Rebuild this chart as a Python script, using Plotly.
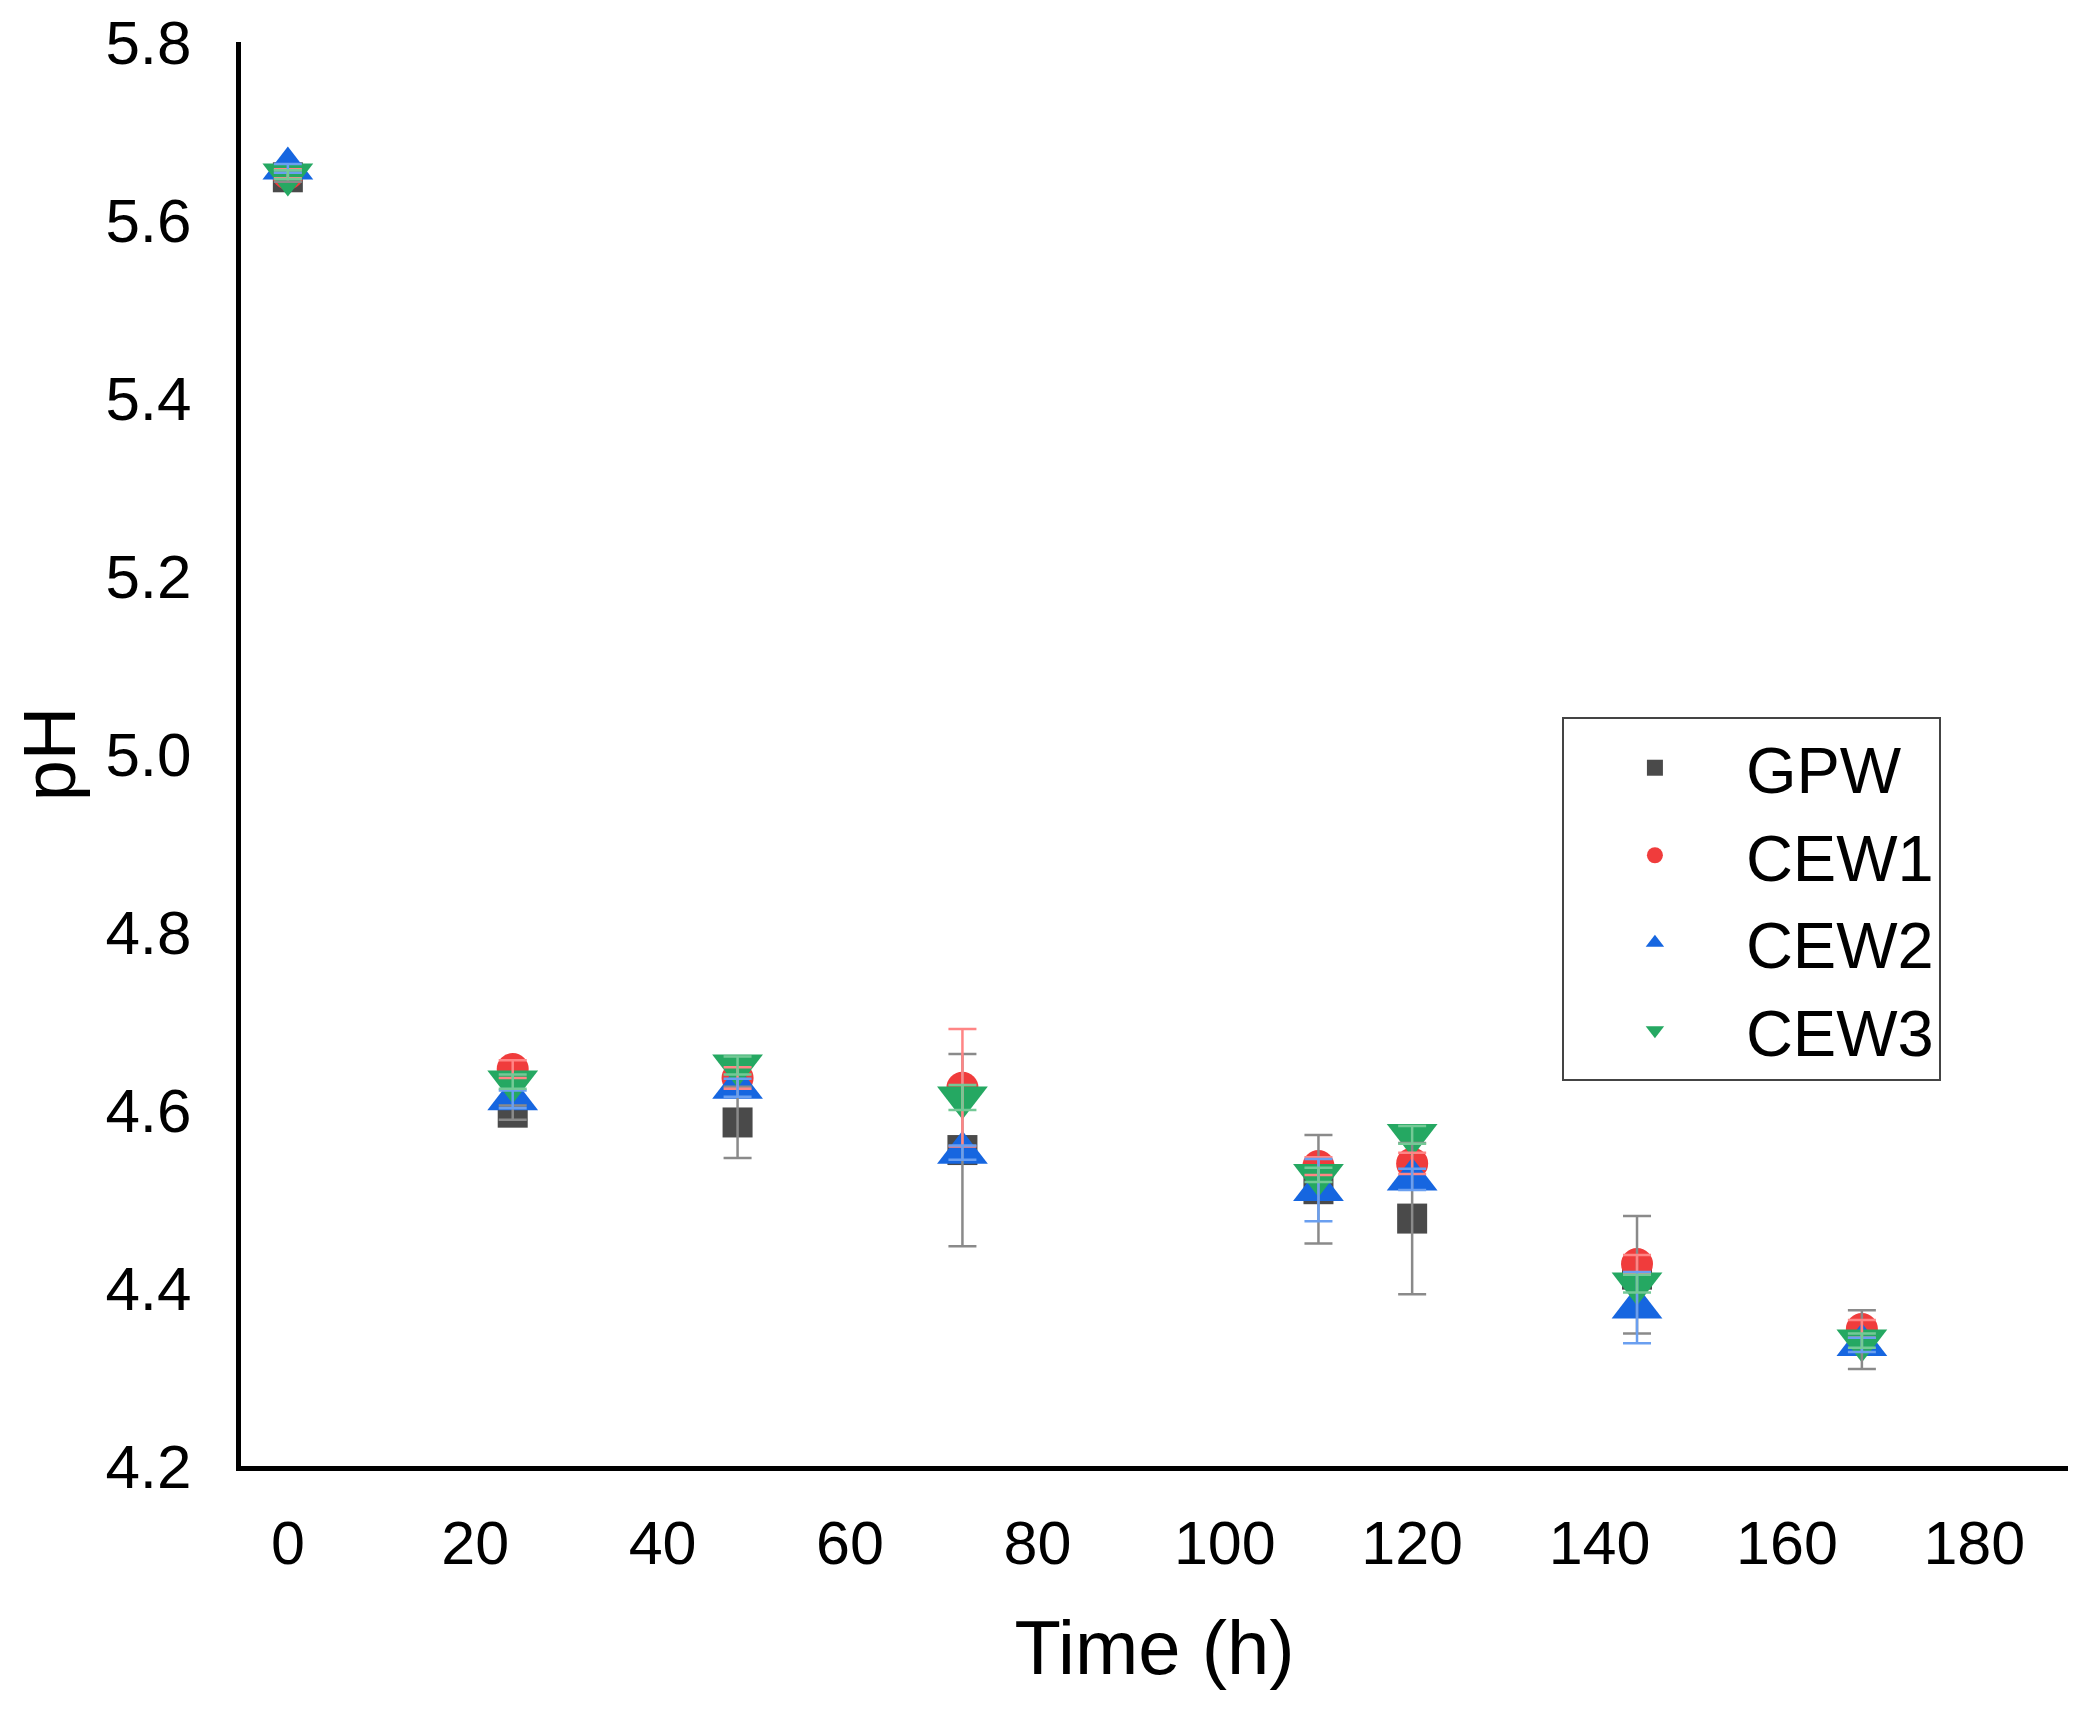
import plotly.graph_objects as go

time_h = [0, 24, 48, 72, 110, 120, 144, 168]

gpw = [5.648, 4.597, 4.586, 4.555, 4.511, 4.478, 4.415, 4.342]
gpw_sd = [0.005, 0.008, 0.040, 0.108, 0.061, 0.085, 0.066, 0.033]
cew1 = [5.652, 4.646, 4.636, 4.625, 4.537, 4.540, 4.427, 4.354]
cew1_sd = [0.005, 0.010, 0.012, 0.066, 0.010, 0.012, 0.010, 0.010]
cew2 = [5.658, 4.612, 4.625, 4.552, 4.510, 4.522, 4.378, 4.336]
cew2_sd = [0.005, 0.010, 0.010, 0.008, 0.035, 0.012, 0.040, 0.008]
cew3 = [5.651, 4.632, 4.650, 4.614, 4.527, 4.572, 4.405, 4.341]
cew3_sd = [0.005, 0.008, 0.010, 0.014, 0.008, 0.010, 0.010, 0.008]

y_ticks = [4.2, 4.4, 4.6, 4.8, 5.0, 5.2, 5.4, 5.6, 5.8]
x_ticks = [0, 20, 40, 60, 80, 100, 120, 140, 160, 180]

series = [
    ("GPW", gpw, gpw_sd, "square", "#4a4a4a", "#8a8a8a", 30),
    ("CEW1", cew1, cew1_sd, "circle", "#f03c3c", "#ff8585", 32),
    ("CEW2", cew2, cew2_sd, "triangle-up", "#1666e0", "#6a9ff0", 44),
    ("CEW3", cew3, cew3_sd, "triangle-down", "#25a862", "#74c996", 44),
]

fig = go.Figure()
# markers (these also carry the legend entries)
for name, vals, sd, sym, col, ecol, size in series:
    fig.add_trace(go.Scatter(
        x=time_h, y=vals, name=name, mode="markers", showlegend=True,
        legendgroup=name,
        marker=dict(symbol=sym, color=col, size=size, line=dict(width=0)),
    ))
# error bars drawn on top of all markers
for name, vals, sd, sym, col, ecol, size in series:
    fig.add_trace(go.Scatter(
        x=time_h, y=vals, name=name, mode="markers", showlegend=False,
        legendgroup=name, hoverinfo="skip",
        marker=dict(color=col, size=1, opacity=0),
        error_y=dict(type="data", array=sd, visible=True, color=ecol,
                     thickness=2.5, width=14),
    ))

font_family = "Liberation Sans, Arial, sans-serif"
fig.update_layout(
    width=2088, height=1717,
    margin=dict(l=233, r=28, t=34, b=259, autoexpand=False),
    paper_bgcolor="white", plot_bgcolor="white",
    font=dict(family=font_family, color="black"),
    showlegend=True,
    legend=dict(
        x=0.723, y=0.526, xanchor="left", yanchor="top",
        bordercolor="#444444", borderwidth=2, bgcolor="white",
        font=dict(size=65, color="black", family=font_family),
        itemwidth=172, tracegroupgap=0,
    ),
    xaxis=dict(
        range=[-5, 190], tickvals=x_ticks, ticktext=[str(v) for v in x_ticks],
        showgrid=False, zeroline=False, showline=True, linecolor="black",
        linewidth=5, ticks="outside", ticklen=20, tickcolor="rgba(0,0,0,0)",
        tickfont=dict(size=61), automargin=False, ticklabeloverflow="allow",
        title=dict(text="Time (h)", font=dict(size=76), standoff=46),
    ),
    yaxis=dict(
        range=[4.2, 5.8], tickvals=y_ticks, ticktext=[f"{v:.1f}" for v in y_ticks],
        showgrid=False, zeroline=False, showline=True, linecolor="black",
        linewidth=5, ticks="outside", ticklen=32, tickcolor="rgba(0,0,0,0)",
        tickfont=dict(size=62), automargin=False, ticklabeloverflow="allow",
        title=dict(text="pH", font=dict(size=74), standoff=10),
    ),
)

fig.write_html("out.html")
